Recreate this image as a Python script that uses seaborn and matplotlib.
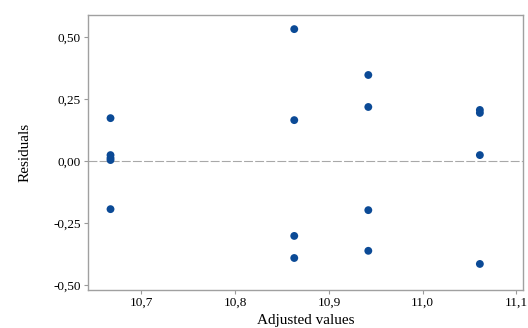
import matplotlib
matplotlib.use("Agg")
import matplotlib.pyplot as plt
from matplotlib.ticker import FuncFormatter
import pandas as pd
import seaborn as sns

# Residuals vs adjusted (fitted) values
fitted = [10.667, 10.667, 10.667, 10.667, 10.667,
          10.863, 10.863, 10.863, 10.863,
          10.942, 10.942, 10.942, 10.942,
          11.061, 11.061, 11.061, 11.061]
residuals = [0.173, 0.024, 0.012, 0.004, -0.194,
             0.532, 0.165, -0.302, -0.391,
             0.347, 0.218, -0.198, -0.362,
             0.206, 0.194, 0.024, -0.415]
x_ticks = [10.7, 10.8, 10.9, 11.0, 11.1]
y_ticks = [-0.50, -0.25, 0.00, 0.25, 0.50]

df = pd.DataFrame({"Adjusted values": fitted, "Residuals": residuals})

sns.set_style("white")
plt.rcParams['font.family'] = ['Liberation Serif', 'DejaVu Serif']

fig = plt.figure(figsize=(5.28, 3.28), dpi=100)
ax = fig.add_axes([0.1667, 0.1159, 0.8238, 0.8384])

ax.axhline(0, color="#a8a8a8", linestyle=(0, (8, 2)), linewidth=0.8, zorder=1)
sns.scatterplot(data=df, x="Adjusted values", y="Residuals", ax=ax,
                color="#0b4a96", s=32, edgecolor="none", zorder=3)

ax.set_xlim(10.643, 11.107)
ax.set_ylim(-0.52, 0.589)
ax.set_xticks(x_ticks)
ax.set_yticks(y_ticks)

comma = lambda fmt: FuncFormatter(lambda v, p: fmt.format(v).replace(".", ","))
ax.xaxis.set_major_formatter(comma("{:.1f}"))
ax.yaxis.set_major_formatter(comma("{:.2f}"))

ax.tick_params(axis="both", direction="out", length=3, width=0.8,
               color="#9a9a9a", labelsize=9.5, labelcolor="black", pad=2,
               bottom=True, left=True)
for sp in ax.spines.values():
    sp.set_color("#a0a0a0")
    sp.set_linewidth(1.0)

ax.set_xlabel("Adjusted values", fontsize=11, labelpad=4, color="black")
ax.set_ylabel("Residuals", fontsize=11, labelpad=16, color="black")

fig.savefig("out.png", dpi=100)
